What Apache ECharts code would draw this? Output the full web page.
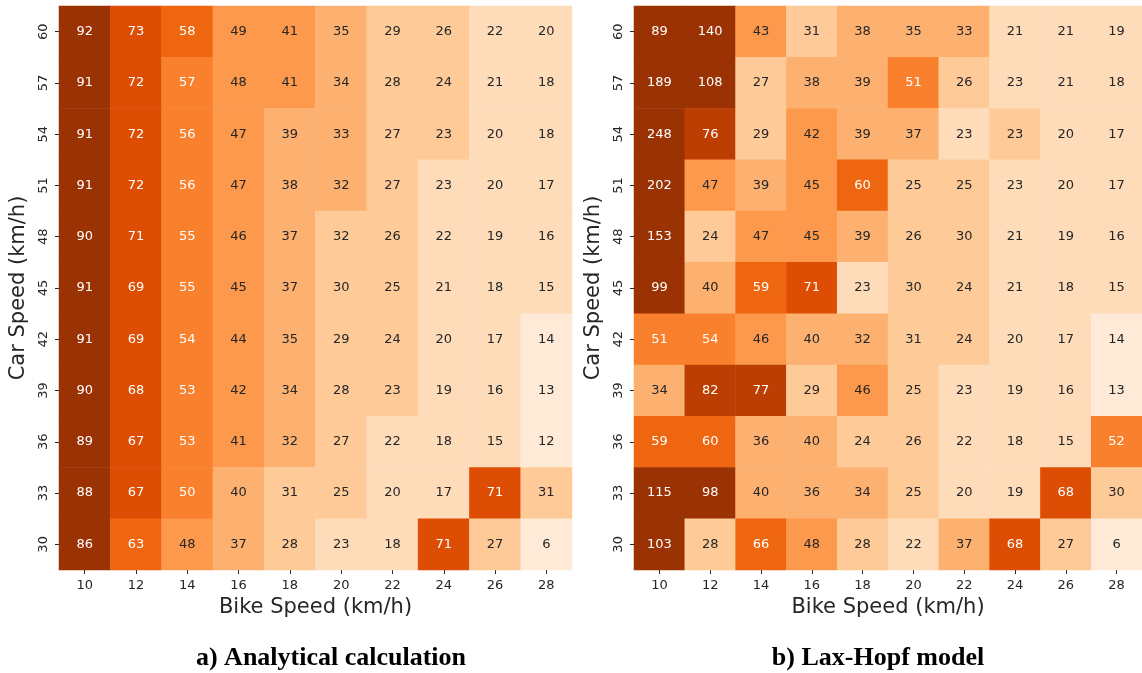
<!DOCTYPE html>
<html>
<head>
<meta charset="utf-8">
<script src="https://cdn.jsdelivr.net/npm/echarts@6/dist/echarts.min.js"></script>
<style>
  html, body { margin: 0; padding: 0; background: #fff; }
  #chart { width: 1142px; height: 673px; }
</style>
</head>
<body>
<div id="chart"></div>
<script>
// axis categories
const bikeSpeeds = ['10', '12', '14', '16', '18', '20', '22', '24', '26', '28'];
const carSpeeds = ['30', '33', '36', '39', '42', '45', '48', '51', '54', '57', '60'];

// rows from top (60 km/h) down to 30 km/h
const analytical = [
  [92, 73, 58, 49, 41, 35, 29, 26, 22, 20],
  [91, 72, 57, 48, 40.5, 34, 28, 24, 21, 18],
  [91, 72, 56, 47, 39, 33, 27, 23.3, 20, 18],
  [91, 72, 56, 47, 38, 32, 27, 23, 20, 17],
  [90, 71, 55, 46, 37, 31.7, 26, 22, 19, 16],
  [91, 69, 55, 45, 37, 30, 25, 21, 18, 15],
  [91, 69, 54, 44, 35, 29, 24, 20, 17, 14],
  [90, 68, 53, 42, 34, 28, 23.3, 19, 16, 13],
  [89, 67, 53, 41, 32, 27, 22, 18, 15, 12],
  [88, 67, 50, 40, 31, 25, 20, 17, 71, 31],
  [86, 63, 48, 37, 28, 23, 18, 71, 27, 6]
];
const laxHopf = [
  [89, 140, 43, 31, 38, 35, 33, 21, 21, 19],
  [189, 108, 27, 38, 39, 51, 26, 23, 21, 18],
  [248, 76, 29, 42, 39, 37, 23, 23.3, 20, 17],
  [202, 47, 39, 45, 60, 25, 25, 23, 20, 17],
  [153, 24, 47, 45, 39, 26, 30, 21, 19, 16],
  [99, 40, 59, 71, 23, 30, 24, 21, 18, 15],
  [51, 54, 46, 40, 32, 31, 24, 20, 17, 14],
  [34, 82, 77, 29, 46, 25, 23, 19, 16, 13],
  [59, 60, 36, 40, 24, 26, 22, 18, 15, 52],
  [115, 98, 40, 36, 34, 25, 20, 19, 68, 30],
  [103, 28, 66, 48, 28, 22, 37, 68, 27, 6]
];

// colour bins (10 equal steps between 6 and 92, Oranges)
const binEdges = [14.6, 23.2, 31.8, 40.4, 49.5, 57.6, 66.5, 74.8, 83.4];
const palette = ['#feead6', '#fedcba', '#fdca98', '#fdb170', '#fd994d',
                 '#f9802d', '#ef6611', '#dd4e04', '#bd3e02', '#9b3203'];

const font = 'DejaVu Sans';
const textColor = '#262626';

function toCells(rows) {
  const out = [];
  rows.forEach((row, r) => {
    const yi = carSpeeds.length - 1 - r;
    row.forEach((v, xi) => {
      out.push({
        value: [xi, yi, v],
        label: { color: v >= binEdges[4] ? '#ffffff' : textColor }
      });
    });
  });
  return out;
}

const pieces = palette.map((c, i) => {
  const p = { color: c };
  if (i > 0) p.gte = binEdges[i - 1];
  if (i < binEdges.length) p.lt = binEdges[i];
  return p;
});

const chart = echarts.init(document.getElementById('chart'));

function xAxisFor(idx) {
  return {
    type: 'category', gridIndex: idx, data: bikeSpeeds,
    name: 'Bike Speed (km/h)', nameLocation: 'middle', nameGap: 27,
    nameTextStyle: { fontFamily: font, fontSize: 21, color: textColor },
    axisLine: { show: false },
    axisTick: { show: true, alignWithLabel: true, length: 4, lineStyle: { color: textColor } },
    axisLabel: { fontFamily: font, fontSize: 13, color: textColor, margin: 9 },
    splitArea: { show: false }
  };
}
function yAxisFor(idx) {
  return {
    type: 'category', gridIndex: idx, data: carSpeeds,
    name: 'Car Speed (km/h)', nameLocation: 'middle', nameGap: 30,
    nameTextStyle: { fontFamily: font, fontSize: 21, color: textColor },
    axisLine: { show: false },
    axisTick: { show: true, alignWithLabel: true, length: 4, lineStyle: { color: textColor } },
    axisLabel: { fontFamily: font, fontSize: 13, color: textColor, rotate: 90, margin: 9 },
    splitArea: { show: false }
  };
}

function heat(idx, rows) {
  return {
    type: 'heatmap', xAxisIndex: idx, yAxisIndex: idx,
    data: toCells(rows),
    label: {
      show: true, fontFamily: font, fontSize: 13,
      formatter: p => String(Math.round(p.value[2]))
    },
    emphasis: { disabled: true },
    progressive: 0
  };
}

chart.setOption({
  animation: false,
  title: [
    { text: 'a) Analytical calculation', left: 326, top: 640, textAlign: 'center',
      textStyle: { fontFamily: 'Liberation Serif', fontWeight: 'bold', fontSize: 26, color: '#000' } },
    { text: 'b) Lax-Hopf model', left: 873, top: 640, textAlign: 'center',
      textStyle: { fontFamily: 'Liberation Serif', fontWeight: 'bold', fontSize: 26, color: '#000' } }
  ],
  grid: [
    { left: 59, top: 6, width: 513, height: 564 },
    { left: 634, top: 6, width: 513, height: 564 }
  ],
  xAxis: [xAxisFor(0), xAxisFor(1)],
  yAxis: [yAxisFor(0), yAxisFor(1)],
  visualMap: {
    type: 'piecewise', show: false, dimension: 2, seriesIndex: [0, 1],
    pieces: pieces
  },
  series: [heat(0, analytical), heat(1, laxHopf)]
});
</script>
</body>
</html>
